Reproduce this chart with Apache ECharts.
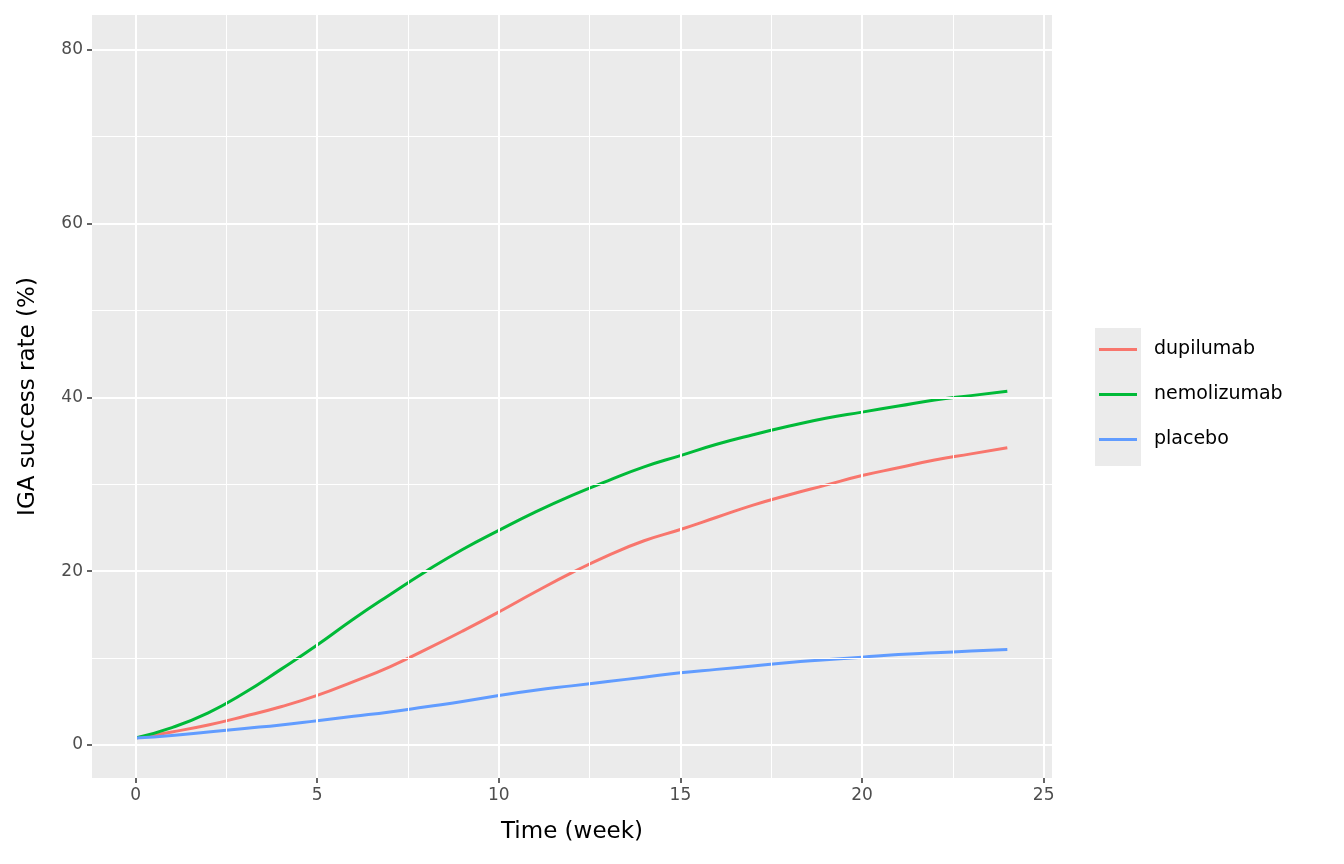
<!DOCTYPE html><html><head><meta charset="utf-8"><script src="https://cdn.jsdelivr.net/npm/echarts@6/dist/echarts.min.js"></script>
<style>html,body{margin:0;padding:0;background:#fff}#c{width:1344px;height:864px}</style></head><body><div id="c"></div><script>
const weeks=[0,1,2,3,4,5,6,7,8,9,10,11,12,13,14,15,16,17,18,19,20,21,22,23,24];
const dupilumab=[0.8,1.5,2.3,3.3,4.4,5.7,7.3,9,11,13.1,15.3,17.6,19.8,21.8,23.5,24.8,26.2,27.6,28.8,29.9,31,31.9,32.8,33.5,34.2];
const nemolizumab=[0.8,2,3.7,6,8.7,11.5,14.5,17.3,20,22.5,24.7,26.8,28.7,30.4,32,33.3,34.6,35.7,36.7,37.6,38.3,39,39.7,40.2,40.7];
const placebo=[0.8,1.1,1.5,1.9,2.3,2.8,3.3,3.8,4.4,5.0,5.7,6.3,6.8,7.3,7.8,8.3,8.7,9.1,9.5,9.8,10.1,10.4,10.6,10.8,11];
const xMajor=[0,5,10,15,20,25], xMinor=[2.5,7.5,12.5,17.5,22.5];
const yMajor=[0,20,40,60,80], yMinor=[10,30,50,70];
const names=['dupilumab','nemolizumab','placebo'], colors=['#F8766D','#00BA38','#619CFF'];
const data=[dupilumab,nemolizumab,placebo];
const gl=(v,axis,w)=>({[axis]:v,lineStyle:{color:'#fff',width:w,type:'solid'}});
const grid=[...xMajor.map(v=>gl(v,'xAxis',2)),...xMinor.map(v=>gl(v,'xAxis',1)),...yMajor.map(v=>gl(v,'yAxis',2)),...yMinor.map(v=>gl(v,'yAxis',1))];
const series=[{type:'line',data:[],silent:true,markLine:{silent:true,symbol:'none',label:{show:false},animation:false,data:grid}}];
names.forEach((n,i)=>series.push({name:n,type:'line',showSymbol:false,smooth:true,color:colors[i],lineStyle:{width:3},data:weeks.map((w,j)=>[w,data[i][j]])}));
const ax={axisLine:{show:true,onZero:false,lineStyle:{color:'rgba(0,0,0,0)'}},splitLine:{show:false},axisTick:{show:true,length:5,lineStyle:{color:'#333',width:1.5}},axisLabel:{color:'#4D4D4D',fontSize:17,fontFamily:'DejaVu Sans',margin:9}};
echarts.init(document.getElementById('c')).setOption({animation:false,
grid:{left:92,right:292,top:15,bottom:86,show:true,backgroundColor:'#EBEBEB',borderWidth:0},
graphic:[{type:'rect',left:1095,top:328,shape:{width:46,height:138},style:{fill:'#EBEBEB'},z:-1}],
xAxis:{type:'value',min:-1.2,max:25.23,...ax,axisTick:{...ax.axisTick,customValues:xMajor},axisLabel:{...ax.axisLabel,customValues:xMajor},name:'Time (week)',nameLocation:'middle',nameGap:43,nameTextStyle:{fontSize:23,color:'#000',fontFamily:'DejaVu Sans'}},
yAxis:{type:'value',min:-3.8,max:84,...ax,axisTick:{...ax.axisTick,customValues:yMajor},axisLabel:{...ax.axisLabel,customValues:yMajor},name:'IGA success rate (%)',nameLocation:'middle',nameGap:52,nameTextStyle:{fontSize:23,color:'#000',fontFamily:'DejaVu Sans'}},
legend:{orient:'vertical',left:1099,top:340,data:names,padding:0,itemGap:26,itemWidth:38,itemHeight:3,icon:'rect',textStyle:{fontSize:19,color:'#000',fontFamily:'DejaVu Sans',padding:[0,0,0,12]}},
series});
</script></body></html>
